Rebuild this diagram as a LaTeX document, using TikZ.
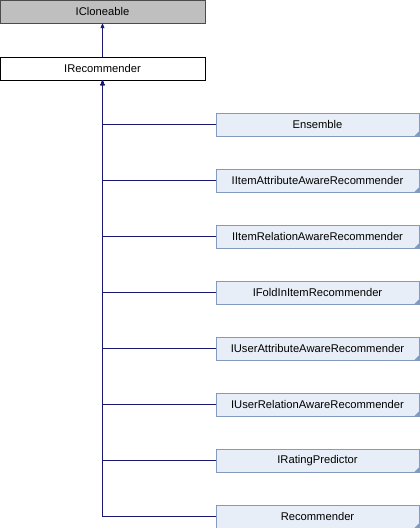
\documentclass[tikz,border=0pt]{standalone}
\usepackage{fontspec}
\setmainfont{Liberation Sans}
\usetikzlibrary{arrows.meta, positioning}
\definecolor{xNavy}{RGB}{25,25,112}
\definecolor{xGray}{RGB}{191,191,191}
\definecolor{xPale}{RGB}{232,238,247}
\definecolor{xEdge}{RGB}{132,155,193}
\tikzset{
  base/.style={draw, minimum width=205pt, minimum height=23pt, inner sep=0pt, font=\fontsize{11.2}{13}\selectfont},
  parent/.style={base, fill=xGray, draw=black!70},
  self/.style={base, fill=white, draw=black},
  child/.style={draw=xEdge, fill=xPale, minimum width=203pt, minimum height=23pt, inner sep=0pt, font=\fontsize{11.2}{13}\selectfont},
  inherit/.style={-{Triangle[width=4pt,length=5pt]}, xNavy, semithick},
}
\begin{document}
\begin{tikzpicture}[x=1pt, y=-1pt]
    \useasboundingbox (0,0) rectangle (420,528);
    \node[parent] (clone) at (102.5,11.5) {ICloneable};
    \node[self]   (rec)   at (102.5,68.5) {IRecommender};
    \draw[inherit] (rec) -- (clone);
    % derived classes
    \foreach \name [count=\i] in {Ensemble, IItemAttributeAwareRecommender,
        IItemRelationAwareRecommender, IFoldInItemRecommender,
        IUserAttributeAwareRecommender, IUserRelationAwareRecommender,
        IRatingPredictor, Recommender} {
      \node[child] (c\i) at (317.5,{124.5+56*(\i-1)}) {\name};
      \fill[xEdge] (c\i.south east) -- ++(-5,0) -- ++(5,-5) -- cycle;
      \draw[inherit] (c\i.west) -| (rec.south);
    }
  \end{tikzpicture}
\end{document}
